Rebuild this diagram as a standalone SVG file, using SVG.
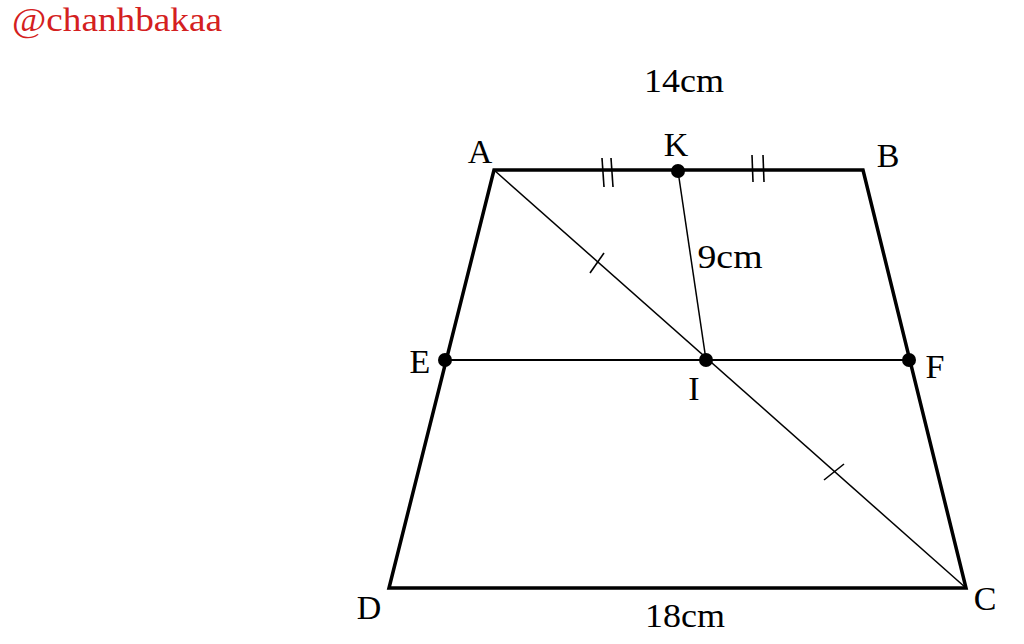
<svg xmlns="http://www.w3.org/2000/svg" width="1024" height="644" viewBox="0 0 1024 644">
<style>
text{font-family:"Liberation Serif","DejaVu Serif",serif;fill:#000}
.lbl{font-size:34px;text-anchor:middle}
.thick{stroke:#000;stroke-width:3.5;fill:none;stroke-linejoin:miter}
.thin{stroke:#000;stroke-width:1.5;fill:none}
.mid{stroke:#000;stroke-width:2;fill:none}
.tick{stroke:#000;stroke-width:1.6}
.pt{fill:#000}
</style>
<rect width="1024" height="644" fill="#fff"/>
<text x="12" y="31" style="font-size:34px;fill:#d42020" textLength="210" lengthAdjust="spacingAndGlyphs">@chanhbakaa</text>
<g id="connectors">
<polygon class="thick" points="494,170 863,170 966,588 389,588"/>
<line class="mid" x1="445" y1="360" x2="909" y2="360"/>
<line class="thin" x1="494" y1="170" x2="966" y2="588"/>
<line class="thin" x1="678" y1="171" x2="706" y2="360"/>
<line class="tick" x1="602" y1="158" x2="604" y2="187"/>
<line class="tick" x1="611" y1="158" x2="613" y2="187"/>
<line class="tick" x1="752" y1="155" x2="753" y2="182"/>
<line class="tick" x1="763" y1="155" x2="764" y2="182"/>
<line class="tick" x1="590" y1="273" x2="604" y2="253"/>
<line class="tick" x1="824" y1="480" x2="844" y2="464"/>
</g>
<g id="node-A"><text class="lbl" x="480" y="163">A</text></g>
<g id="node-B"><text class="lbl" x="888" y="167">B</text></g>
<g id="node-K"><circle class="pt" cx="678" cy="171" r="7"/><text class="lbl" x="676" y="156">K</text></g>
<g id="node-E"><circle class="pt" cx="445" cy="360" r="7"/><text class="lbl" x="420" y="373">E</text></g>
<g id="node-F"><circle class="pt" cx="909" cy="360" r="7"/><text class="lbl" x="935" y="378">F</text></g>
<g id="node-I"><circle class="pt" cx="706" cy="360" r="7"/><text class="lbl" x="694" y="400">I</text></g>
<g id="node-D"><text class="lbl" x="369" y="619">D</text></g>
<g id="node-C"><text class="lbl" x="985" y="610">C</text></g>
<g id="labels">
<text class="lbl" x="684" y="92" textLength="80" lengthAdjust="spacingAndGlyphs">14cm</text>
<text class="lbl" x="730" y="268" textLength="65" lengthAdjust="spacingAndGlyphs">9cm</text>
<text class="lbl" x="685" y="627" textLength="80" lengthAdjust="spacingAndGlyphs">18cm</text>
</g>
</svg>
